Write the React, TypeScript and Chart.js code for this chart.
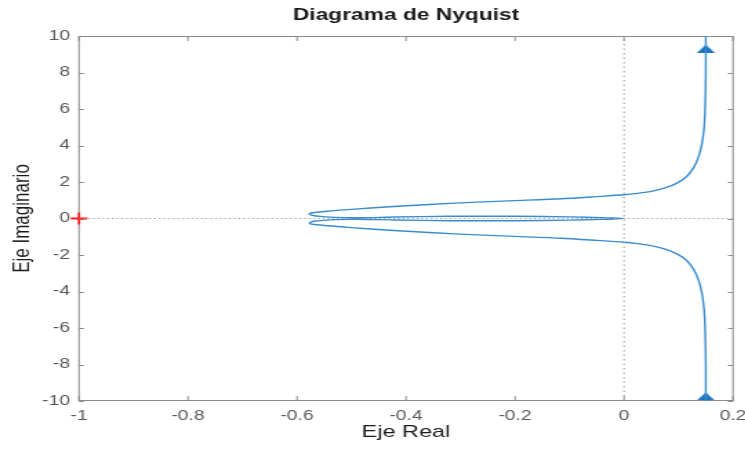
import React, { useEffect, useRef } from "react";
import { Chart, registerables } from "chart.js";

Chart.register(...registerables);

// Upper branch (ω > 0), from top-right to the origin
const upperX = [0.150, 0.150, 0.149, 0.147, 0.143, 0.137, 0.128, 0.115, 0.098, 0.078, 0.052, 0.025, 0.0, -0.05, -0.115, -0.2, -0.27, -0.35, -0.43, -0.5, -0.545, -0.568, -0.577, -0.575, -0.566, -0.552, -0.53, -0.49, -0.42, -0.32, -0.2, -0.1, -0.04, -0.015, 0.0];
const upperY = [10, 8, 6.2, 5.0, 4.1, 3.4, 2.8, 2.3, 1.95, 1.7, 1.5, 1.38, 1.3, 1.2, 1.08, 0.98, 0.9, 0.78, 0.64, 0.5, 0.4, 0.33, 0.27, 0.2, 0.14, 0.1, 0.06, 0.04, 0.08, 0.12, 0.12, 0.09, 0.05, 0.02, 0.0];

const xTicksMin = -1;
const xTicksMax = 0.2;
const xStep = 0.2;
const yTicksMin = -10;
const yTicksMax = 10;
const yStep = 2;

const arrowPoints = [
  { x: 0.15, y: 9.3 },
  { x: 0.15, y: -9.75 },
];
const criticalPoint = [{ x: -1, y: 0 }];

const titleText = "Diagrama de Nyquist";
const xTitle = "Eje Real";
const yTitle = "Eje Imaginario";

const FONT = "'Liberation Sans', Arial, Helvetica, sans-serif";

// The reference image is horizontally stretched; draw narrower and stretch.
const STRETCH = 1.38;
const W = 540;
const H = 450;

function makeArrowImage() {
  const c = document.createElement("canvas");
  const w = 13;
  const h = 8;
  c.width = w;
  c.height = h;
  const g = c.getContext("2d");
  if (g) {
    g.fillStyle = "#1f72c0";
    g.beginPath();
    g.moveTo(w / 2, 0);
    g.lineTo(w, h);
    g.lineTo(0, h);
    g.closePath();
    g.fill();
  }
  return c;
}

export default function App() {
  const ref = useRef<HTMLCanvasElement | null>(null);

  useEffect(() => {
    document.body.style.margin = "0";
    const canvas = ref.current;
    if (!canvas) return;

    const upper = upperX.map((x, i) => ({ x, y: upperY[i] }));
    // lower branch = complex conjugate (ω < 0), traversed from origin to bottom
    const lower = upper
      .slice()
      .reverse()
      .map((p) => ({ x: p.x, y: -p.y }));
    const curve = [...upper, ...lower.slice(1)];

    const boxPlugin = {
      id: "matlabBox",
      beforeDatasetsDraw(chart: any) {
        const { ctx, chartArea } = chart;
        const { left, right, top, bottom } = chartArea;
        const xs = chart.scales.x;
        const ys = chart.scales.y;
        ctx.save();
        ctx.strokeStyle = "#8a8a8a";
        ctx.lineWidth = 1;
        ctx.strokeRect(left, top + 0.5, right - left, bottom - top - 1);
        const tlv = 5;
        const tlh = 5 / STRETCH;
        ctx.beginPath();
        xs.ticks.forEach((t: any) => {
          const px = xs.getPixelForValue(t.value);
          ctx.moveTo(px, bottom);
          ctx.lineTo(px, bottom - tlv);
          ctx.moveTo(px, top);
          ctx.lineTo(px, top + tlv);
        });
        ys.ticks.forEach((t: any) => {
          const py = Math.round(ys.getPixelForValue(t.value)) + 0.5;
          ctx.moveTo(left, py);
          ctx.lineTo(left + tlh, py);
          ctx.moveTo(right, py);
          ctx.lineTo(right - tlh, py);
        });
        ctx.stroke();
        ctx.restore();
      },
      afterDraw(chart: any) {
        const { ctx, chartArea } = chart;
        ctx.save();
        ctx.fillStyle = "#1a1a1a";
        ctx.font = `bold 16.5px ${FONT}`;
        ctx.textAlign = "center";
        ctx.textBaseline = "middle";
        ctx.fillText(titleText, (chartArea.left + chartArea.right) / 2, 15);
        ctx.restore();
      },
    };

    const chart = new Chart(canvas, {
      type: "scatter",
      data: {
        datasets: [
          {
            label: "y0",
            data: [
              { x: xTicksMin, y: 0 },
              { x: xTicksMax, y: 0 },
            ],
            showLine: true,
            borderColor: "#9a9a9a",
            borderWidth: 1,
            borderDash: [1.2, 2.2],
            pointRadius: 0,
          },
          {
            label: "x0",
            data: [
              { x: 0, y: yTicksMin },
              { x: 0, y: yTicksMax },
            ],
            showLine: true,
            borderColor: "#9a9a9a",
            borderWidth: 1,
            borderDash: [1.5, 3],
            pointRadius: 0,
          },
          {
            label: "nyquist",
            data: curve,
            showLine: true,
            borderColor: "#3a8ccc",
            borderWidth: 1.4,
            pointRadius: 0,
            tension: 0.25,
          },
          {
            label: "arrows",
            data: arrowPoints,
            pointStyle: makeArrowImage(),
            pointRadius: 6,
            clip: false,
          },
          {
            label: "critical",
            data: criticalPoint,
            pointStyle: "cross",
            pointRadius: 6,
            borderColor: "#ff1a1a",
            borderWidth: 1.8,
            clip: false,
          },
        ],
      },
      options: {
        animation: false,
        responsive: false,
        maintainAspectRatio: false,
        devicePixelRatio: 1,
        layout: { padding: { top: 36, right: W - 733 / STRETCH, bottom: 0, left: 0 } },
        plugins: {
          legend: { display: false },
          tooltip: { enabled: false },
          title: { display: false },
        },
        scales: {
          x: {
            type: "linear",
            min: xTicksMin,
            max: xTicksMax,
            grid: { display: false, drawTicks: false },
            border: { display: false },
            ticks: {
              stepSize: xStep,
              padding: 7,
              color: "#595959",
              font: { family: FONT, size: 14 },
              callback: (v: any) => String(Math.round(Number(v) * 10) / 10),
            },
            title: {
              display: true,
              text: xTitle,
              color: "#1a1a1a",
              font: { family: FONT, size: 17 },
              padding: { top: 0, bottom: 7 },
            },
            afterFit: (s: any) => {
              s.height = 49;
              s.paddingLeft = 0;
              s.paddingRight = 0;
            },
          },
          y: {
            type: "linear",
            min: yTicksMin,
            max: yTicksMax,
            grid: { display: false, drawTicks: false },
            border: { display: false },
            ticks: {
              stepSize: yStep,
              padding: 9 / STRETCH,
              color: "#595959",
              font: { family: FONT, size: 14 },
              callback: (v: any) => String(Math.round(Number(v))),
            },
            title: {
              display: true,
              text: yTitle,
              color: "#1a1a1a",
              font: { family: FONT, size: 17 },
              padding: { top: 22 / STRETCH - 10.2, bottom: 0 },
            },
            afterFit: (s: any) => {
              s.width = 79 / STRETCH;
            },
          },
        },
      },
      plugins: [boxPlugin],
    } as any);

    return () => chart.destroy();
  }, []);

  return (
    <div style={{ position: "fixed", left: 0, top: 0, width: 745, height: 450, background: "#fff", overflow: "hidden" }}>
      <div style={{ width: W, height: H, transform: `scaleX(${STRETCH})`, transformOrigin: "0 0" }}>
        <canvas ref={ref} width={W} height={H} style={{ width: W, height: H, display: "block" }} />
      </div>
    </div>
  );
}
